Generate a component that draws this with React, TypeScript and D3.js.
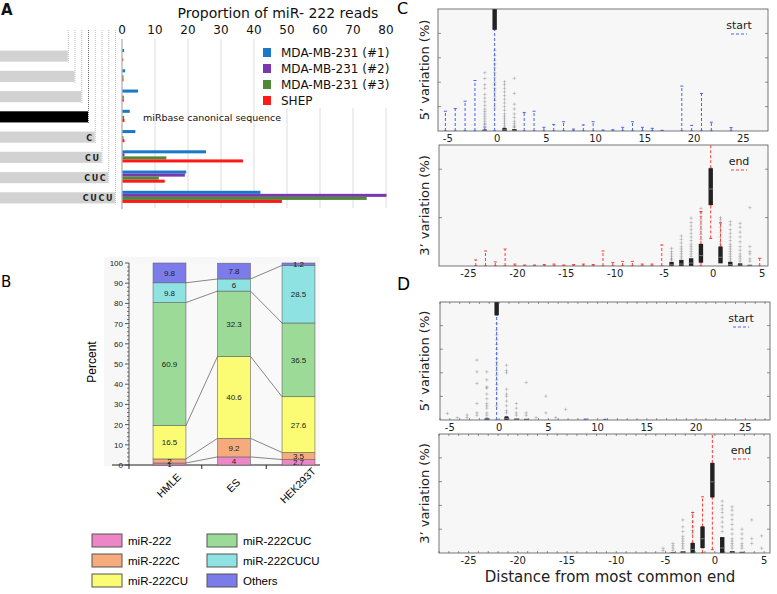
import React from 'react'
import * as d3 from 'd3'

const FONT = 'DejaVu Sans, sans-serif'
const ARIAL = 'Liberation Sans, Arial, sans-serif'

// ---- A: isomiR read proportions
const seqTails = ['', '', '', '', 'C', 'CU', 'CUC', 'CUCU']
const seqShift = [-3, -2, -1, 0, 1, 2, 3, 4]
const sampleNames = ['MDA-MB-231 (#1)', 'MDA-MB-231 (#2)', 'MDA-MB-231 (#3)', 'SHEP']
const sampleColors = ['#1a78c9', '#7a37b2', '#4e8a34', '#ff1a1a']
const mda1 = [0.5, 0.8, 4.7, 2.2, 3.9, 25.3, 19.3, 41.8]
const mda2 = [0, 0, 0, 0, 0, 0.6, 18.9, 80]
const mda3 = [0, 0.3, 0.4, 0.5, 0.3, 13.3, 11.0, 74]
const shep = [0.2, 0.3, 0.4, 0.6, 0.6, 36.5, 12.8, 48.3]
const readTicks = [0, 10, 20, 30, 40, 50, 60, 70, 80]

// ---- B: stacked percentages
const cellLines = ['HMLE', 'ES', 'HEK293T']
const isoforms = ['miR-222', 'miR-222C', 'miR-222CU', 'miR-222CUC', 'miR-222CUCU', 'Others']
const isoColors = ['#ec86c6', '#f5ab7c', '#fbfb74', '#9bdb97', '#8fe2e2', '#7b7bea']
const hmle = [1, 2, 16.5, 60.9, 9.8, 9.8]
const es = [4, 9.2, 40.6, 32.3, 6, 7.8]
const hek = [2.7, 3.5, 27.6, 36.5, 28.5, 1.2]
const percentTicks = [0, 10, 20, 30, 40, 50, 60, 70, 80, 90, 100]

// ---- C/D: boxplots  [pos, lo, hi], [pos, q1, median, q3], [pos, values]
const startTicks = [-5, 0, 5, 10, 15, 20, 25]
const endTicks = [-25, -20, -15, -10, -5, 0, 5]

const cTopWhiskers = [
  [-5, 0, 8.1], [-4, 0, 9.2], [-3, 0, 12.2], [-2, 0, 20.7], [-1, 0, 1.6], [0, 0, 41.5],
  [1, 0, 1.2], [3, 0, 7.6], [4, 0, 8.1], [5, 0, 1.5], [6, 0, 2.7], [7, 0, 3.8],
  [8, 0, 0.8], [9, 0, 2.5], [10, 0, 3.8], [11, 0, 0.4], [12, 0, 0.5], [13, 0, 1.5],
  [14, 0, 3.8], [15, 0, 1.5], [16, 0, 1.1], [17, 0, 0.3], [19, 0, 18.4], [20, 0, 2.3],
  [21, 0, 15.4], [22, 0, 3.6], [24, 0, 1.4],
]
const cTopBoxes = [[0, 41.5, 52, 60], [1, 0, 0.5, 1.2], [-1, 0, 0.2, 0.6], [2, 0, 0.3, 0.8]]
const cTopFliers: [number, number[]][] = [
  [-1, [23.9, 21.5, 19, 17.5, 15, 13.5, 12, 10.5, 9, 8, 7, 6, 5, 4, 3, 2.5]],
  [0, [33, 31, 29, 27.5, 26, 24, 22, 20, 19, 17.5, 16, 14, 12.5, 9.9]],
  [1, [20.2, 19, 17.5, 16, 14.5, 13, 11.5, 10, 8.5, 7, 6, 5, 4, 3, 2]],
  [2, [21.6, 15.4, 11, 9, 7, 5.5, 4, 3, 2, 1.5]],
]

const cBotWhiskers = [
  [-24, 0, 2.5], [-23, 0, 6.2], [-22, 0, 1.7], [-21, 0, 7.0], [-20, 0, 0.8], [-19, 0, 0.4],
  [-18, 0, 0.4], [-17, 0, 0.6], [-16, 0, 0.8], [-15, 0, 0.4], [-14, 0, 0.6], [-13, 0, 0.8],
  [-12, 0, 0.6], [-11, 0, 6.2], [-10, 0, 1.4], [-9, 0, 1.9], [-8, 0, 1.9], [-7, 0, 0.8],
  [-6, 0, 0.8], [-5, 0, 8.7], [-1, 9.1, 22.5], [-1, 0, 1.4], [0, 11.4, 25.2], [0, 40.4, 60],
  [1, 8.0, 17.9], [5, 0, 3.2],
]
const cBotBoxes = [
  [-4, 0, 0.5, 1.7], [-3, 0, 0.8, 2.5], [-2, 0, 1.2, 3.2], [-1, 1.4, 4.3, 9.1],
  [0, 25.2, 31.8, 40.4], [1, 1.1, 3.6, 8.0], [2, 0, 0.6, 1.7], [3, 0, 0.4, 1.1], [4, 0, 0.2, 0.5],
]
const cBotFliers: [number, number[]][] = [
  [-4, [7.3, 6, 5, 4, 3, 2.5]],
  [-3, [12.4, 11, 9.5, 8, 7, 6, 5, 4, 3]],
  [-2, [19.8, 18, 16.5, 15, 13.5, 12, 10.5, 9, 8, 7, 6, 5, 4]],
  [-1, [23.8, 22, 20.5, 19, 17, 15, 13, 11]],
  [1, [20, 19, 17.5, 16, 14, 12, 10, 9]],
  [2, [18.3, 17, 15, 13.5, 12, 10.5, 9, 8, 7, 6, 5, 4, 3, 2]],
  [3, [17.6, 16, 14, 12, 10, 8, 6.5, 5, 4, 3, 2]],
  [4, [24.1, 8, 6, 5, 3, 2]],
]

const dTopWhiskers = [[0, 0, 44.4], [1, 0, 1.5], [-1, 0, 0.8], [9, 0, 0.4], [11, 0, 0.3]]
const dTopBoxes = [[0, 44.4, 52, 60], [1, 0, 0.6, 1.4], [-1, 0, 0.3, 0.6], [2, 0, 0.2, 0.6], [3, 0, 0.2, 0.5]]
const dTopFliers: [number, number[]][] = [
  [0, [40.8, 38, 36, 34, 32, 30, 28, 26, 24.5, 23, 21, 19, 17, 15, 12.7, 9, 6]],
  [-1, [20.4, 17, 14, 13.5, 11, 9, 7, 6, 5, 3, 2]],
  [-2, [25.4, 20.4, 15.5, 7, 3, 2]],
  [-3, [2.1, 1]], [-4, [1]], [-5, [2.8]],
  [1, [23.2, 21, 20, 13, 11, 10, 8, 6, 4, 3]],
  [2, [7, 5, 3, 2]], [3, [15.9, 3, 2]], [4, [1]], [5, [10.1, 3]], [6, [1]], [7, [4.5]],
]

const dBotWhiskers = [[0, 1.4, 23.4], [0, 37.8, 60], [-1, 11.1, 23.6], [-1, 0, 2.1], [-2, 4.2, 17]]
const dBotBoxes = [
  [0, 23.4, 29.9, 37.8], [-1, 2.1, 6, 11.1], [-2, 0, 1.5, 4.2], [-3, 0, 0.3, 0.7],
  [1, 0, 2.1, 6.7], [2, 0, 0.3, 0.8], [3, 0, 0.2, 0.5], [-4, 0, 0.2, 0.4],
]
const dBotFliers: [number, number[]][] = [
  [-5, [2, 1]], [-4, [4, 3, 2, 1]],
  [-3, [13.9, 11, 9, 7, 6, 5, 4, 3, 2]],
  [-2, [17, 16, 13, 11, 9.5, 8]],
  [1, [21.8, 20, 18.5, 17, 15, 13, 11, 9]],
  [2, [19.4, 18, 16, 14, 12, 10, 8, 6, 5, 4, 3, 2]],
  [3, [10, 8, 6, 4, 3, 2]], [4, [13.9, 6, 4]], [5, [7.2, 2]],
]

function PanelA() {
  const rows = seqShift.map((_, i) => i)
  const x = d3.scaleLinear().domain([0, 80]).range([122, 386])
  const y = d3.scaleBand<number>().domain(rows).range([45, 207]).paddingInner(0.4).paddingOuter(0.2)
  const sub = d3.scaleBand<number>().domain([0, 1, 2, 3]).range([0, y.bandwidth()])
  const seqX = d3.scaleLinear().domain([0, 4]).range([88, 115])
  const series = [mda1, mda2, mda3, shep]
  return (
    <g fontFamily={FONT} fill="#111">
      <text x={1} y={15} fontSize={15} fontWeight="bold">A</text>
      <text x={278} y={18} fontSize={14} textAnchor="middle">Proportion of miR- 222 reads</text>
      {readTicks.map(t => (
        <text key={t} x={x(t)} y={34} fontSize={12} textAnchor="middle">{t}</text>
      ))}
      {readTicks.slice(1).map(t => (
        <line key={t} x1={x(t)} x2={x(t)} y1={39} y2={208} stroke="#ddd" />
      ))}
      <rect x={258} y={39} width={132} height={69} fill="#fff" />
      <line x1={x(0)} x2={x(0)} y1={39} y2={209} stroke="#999" />
      {rows.map(i => {
        const end = seqX(seqShift[i])
        const top = (y(i) as number) + 1.5
        const h = y.bandwidth()
        return (
          <g key={i}>
            <line x1={end + 0.5} x2={end + 0.5} y1={30} y2={top + h}
              stroke={i === 3 ? '#666' : '#bbb'} strokeDasharray="1,1" />
            <rect x={0} y={top} width={end} height={h - 1} fill={i === 3 ? '#000' : '#d2d2d2'} />
            <text x={end - 1} y={top + h / 2 + 3} fontSize={8} fontWeight="bold"
              letterSpacing={1.6} textAnchor="end" fill="#222">{seqTails[i]}</text>
          </g>
        )
      })}
      {series.map((vals, s) => vals.map((v, i) => (
        <rect key={s + '-' + i} x={x(0) + 0.5} y={(y(i) as number) + (sub(s) as number)}
          width={Math.max(0, x(v) - x(0))} height={sub.bandwidth()} fill={sampleColors[s]} />
      )))}
      <text x={143} y={121} fontSize={9.5}>miRbase canonical sequence</text>
      {sampleNames.map((n, s) => (
        <g key={n}>
          <rect x={263} y={48 + s * 16} width={8} height={9} fill={sampleColors[s]} />
          <text x={281} y={56.5 + s * 16} fontSize={12}>{n}</text>
        </g>
      ))}
    </g>
  )
}

function PanelB() {
  const table = [hmle, es, hek].map((vals, j) => {
    const o: any = { cell: cellLines[j] }
    isoforms.forEach((k, i) => (o[k] = vals[i]))
    return o
  })
  const stacked = d3.stack<any>().keys(isoforms)(table)
  const x = d3.scalePoint<string>().domain(cellLines).range([169.5, 298.5])
  const bw = x.step() * 0.51
  const y = d3.scaleLinear().domain([0, 100]).range([465, 263])
  const minor = y.ticks(50).filter(t => t % 10 !== 0)
  const legendY = d3.scalePoint<number>().domain([0, 1, 2]).range([534, 574])
  return (
    <g fontFamily={ARIAL}>
      <text x={1} y={287} fontSize={15} fontFamily={FONT}>B</text>
      <rect x={104} y={257} width={216} height={209} fill="#f7f7f7" />
      <rect x={129} y={263} width={191} height={202} fill="#f9f9f9" />
      <text transform="translate(96,362) rotate(-90)" fontSize={12} textAnchor="middle">Percent</text>
      {percentTicks.map(t => (
        <g key={t}>
          <line x1={125} x2={129} y1={y(t)} y2={y(t)} stroke="#555" />
          <text x={123} y={y(t) + 3} fontSize={8} textAnchor="end" fill="#222">{t}</text>
        </g>
      ))}
      {minor.map(t => <line key={t} x1={127} x2={129} y1={y(t)} y2={y(t)} stroke="#777" />)}
      <line x1={129} x2={129} y1={263} y2={465} stroke="#555" />
      <line x1={112} x2={320} y1={465} y2={465} stroke="#222" />
      {[129, (x('HMLE')! + x('ES')!) / 2, (x('ES')! + x('HEK293T')!) / 2].map((t, i) => (
        <line key={i} x1={t} x2={t} y1={465} y2={469} stroke="#222" />
      ))}
      {stacked.slice(0, -1).map((layer, i) => cellLines.slice(0, -1).map((c, j) => (
        <line key={i + '-' + j} x1={x(c)! + bw / 2} x2={x(cellLines[j + 1])! - bw / 2}
          y1={y(layer[j][1])} y2={y(layer[j + 1][1])} stroke="#555" strokeWidth={0.7} />
      )))}
      {stacked.map((layer, i) => layer.map((d, j) => (
        <rect key={i + '-' + j} x={x(cellLines[j])! - bw / 2} y={y(d[1])} width={bw}
          height={y(d[0]) - y(d[1])} fill={isoColors[i]} stroke="#666" strokeWidth={0.6} />
      )))}
      {stacked.map((layer, i) => layer.map((d, j) => (
        <text key={i + '-' + j} x={x(cellLines[j])} y={y((d[0] + d[1]) / 2) + 3}
          fontSize={8} textAnchor="middle" fill="#222">{d.data[isoforms[i]]}</text>
      )))}
      {cellLines.map(c => (
        <text key={c} transform={`translate(${x(c)! + 2},488) rotate(-45)`} fontSize={10.5}
          textAnchor="middle">{c}</text>
      ))}
      {isoforms.map((k, i) => {
        const col = Math.floor(i / 3)
        const ly = legendY(i % 3)!
        return (
          <g key={k}>
            <rect x={92 + col * 115} y={ly} width={30} height={13} fill={isoColors[i]} stroke="#555" />
            <text x={128 + col * 115} y={ly + 10.5} fontSize={11.5}>{k}</text>
          </g>
        )
      })}
    </g>
  )
}

function BoxPanel(props: any) {
  const { id, x0, x1, y0, y1, domain, whiskers, boxes, fliers, color, legend, yTicks, ticks, minor, ylabel } = props
  const x = d3.scaleLinear().domain(domain).range([x0, x1])
  const y = d3.scaleLinear().domain([0, 50]).range([y1, y0])
  const off = -0.25
  const ints = d3.range(Math.ceil(domain[0]), Math.floor(domain[1]) + 1)
  return (
    <g fontFamily={FONT}>
      <defs>
        <clipPath id={id}><rect x={x0} y={y0} width={x1 - x0} height={y1 - y0} /></clipPath>
      </defs>
      <rect x={x0} y={y0} width={x1 - x0} height={y1 - y0} fill="#f7f7f7" />
      <g clipPath={`url(#${id})`}>
        {fliers.map(([p, vals]: [number, number[]]) => vals.map((v, k) => (
          <g key={p + '-' + k} stroke="#000" strokeOpacity={0.22} strokeWidth={0.8}>
            <line x1={x(p + off) - 1.8} x2={x(p + off) + 1.8} y1={y(v)} y2={y(v)} />
            <line x1={x(p + off)} x2={x(p + off)} y1={y(v) - 1.8} y2={y(v) + 1.8} />
          </g>
        )))}
        {whiskers.map(([p, lo, hi]: number[], k: number) => (
          <g key={k} stroke={color}>
            <line x1={x(p + off)} x2={x(p + off)} y1={y(lo)} y2={y(hi)} strokeDasharray="3,2" />
            <line x1={x(p + off) - 1.5} x2={x(p + off) + 1.5} y1={y(hi)} y2={y(hi)} />
            <line x1={x(p + off) - 1.5} x2={x(p + off) + 1.5} y1={y(lo)} y2={y(lo)} />
          </g>
        ))}
        {boxes.map(([p, q1, med, q3]: number[], k: number) => (
          <g key={k}>
            <rect x={x(p + off) - 2.2} y={y(q3)} width={4.4} height={Math.max(1.5, y(q1) - y(q3))} fill="#222" />
            <line x1={x(p + off) - 2.2} x2={x(p + off) + 2.2} y1={y(med)} y2={y(med)} stroke="#777" />
          </g>
        ))}
      </g>
      {minor && ints.map(t => (
        <g key={t} stroke="#666" strokeWidth={0.7}>
          <line x1={x(t)} x2={x(t)} y1={y0} y2={y0 + 2} />
          <line x1={x(t)} x2={x(t)} y1={y1} y2={y1 - 2} />
        </g>
      ))}
      {yTicks.map((t: number) => (
        <g key={t} stroke="#666" strokeWidth={0.7}>
          <line x1={x0} x2={x0 + 3} y1={y(t)} y2={y(t)} />
          <line x1={x1} x2={x1 - 3} y1={y(t)} y2={y(t)} />
        </g>
      ))}
      <rect x={x0} y={y0} width={x1 - x0} height={y1 - y0} fill="none" stroke="#555" strokeWidth={0.8} />
      {ticks.map((t: number) => (
        <text key={t} x={x(t)} y={y1 + 11} fontSize={10} textAnchor="middle" fill="#222">{t}</text>
      ))}
      <text x={x1 - 29} y={y0 + 20} fontSize={11} textAnchor="middle" fill="#222">{legend}</text>
      <line x1={x1 - 37} x2={x1 - 21} y1={y0 + 25} y2={y0 + 25} stroke={color} strokeDasharray="3,2" />
      <text transform={`translate(429,${(y0 + y1) / 2}) rotate(-90)`} fontSize={13}
        textAnchor="middle" fill="#222">{ylabel}</text>
    </g>
  )
}

export default function App() {
  const blue = '#4a63f0'
  const red = '#ff3b3b'
  return (
    <svg width={777} height={594} style={{ position: 'absolute', left: 0, top: 0, background: '#fff' }}>
      <PanelA />
      <PanelB />
      <text x={397} y={14} fontSize={16} fontFamily={FONT}>C</text>
      <text x={397} y={290} fontSize={17} fontFamily={FONT}>D</text>
      <BoxPanel id="ct" x0={438} x1={768} y0={9} y1={131} domain={[-6, 27.5]}
        whiskers={cTopWhiskers} boxes={cTopBoxes} fliers={cTopFliers} color={blue}
        legend="start" yTicks={[10, 20, 30, 40]} ticks={startTicks} minor={false} ylabel="5’ variation (%)" />
      <BoxPanel id="cb" x0={439} x1={768} y0={145} y1={266} domain={[-28, 5.6]}
        whiskers={cBotWhiskers} boxes={cBotBoxes} fliers={cBotFliers} color={red}
        legend="end" yTicks={[20, 40]} ticks={endTicks} minor={false} ylabel="3’ variation (%)" />
      <BoxPanel id="dt" x0={440} x1={770} y0={302} y1={420} domain={[-6, 27.5]}
        whiskers={dTopWhiskers} boxes={dTopBoxes} fliers={dTopFliers} color={blue}
        legend="start" yTicks={[10, 20, 30, 40]} ticks={startTicks} minor={true} ylabel="5’ variation (%)" />
      <BoxPanel id="db" x0={439} x1={770} y0={434} y1={553} domain={[-28, 5.6]}
        whiskers={dBotWhiskers} boxes={dBotBoxes} fliers={dBotFliers} color={red}
        legend="end" yTicks={[10, 20, 30, 40]} ticks={endTicks} minor={true} ylabel="3’ variation (%)" />
      <text x={610} y={582} fontSize={15} fontFamily={FONT} textAnchor="middle" fill="#222">
        Distance from most common end
      </text>
    </svg>
  )
}
